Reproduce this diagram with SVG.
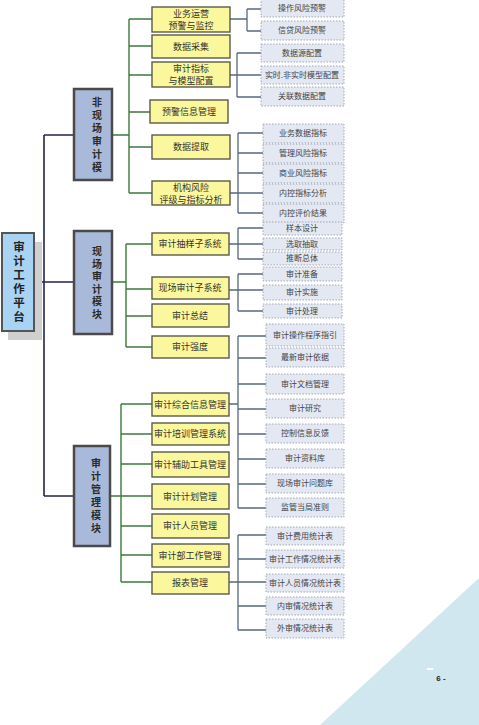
<svg xmlns="http://www.w3.org/2000/svg" width="479" height="725" viewBox="0 0 479 725">
<style>
text{font-family:"Noto Sans CJK SC","Noto Sans",sans-serif;text-anchor:middle}
.v{writing-mode:vertical-rl;text-orientation:upright}
.root{fill:#a9d3f3;stroke:#555;stroke-width:2}
.rt{font-size:11.5px;font-weight:bold;fill:#222;letter-spacing:2.5px}
.mod{fill:#a8b9d9;stroke:#4a4a4a;stroke-width:2.5}
.mt{font-size:10px;font-weight:bold;fill:#2a2a2a;letter-spacing:3px}
.y{fill:#fbf79c;stroke:#5a5a4a;stroke-width:1.4}
.yt{font-size:9px;fill:#333}
.l{fill:#e3e8f3;stroke:#9aa0ad;stroke-width:0.9;stroke-dasharray:1.5 1.5}
.lt{font-size:8px;fill:#444}
.nv{stroke:#23234f;stroke-width:1.6;fill:none}
.gr{stroke:#3b7a3b;stroke-width:1.4;fill:none}
.bl{stroke:#56687f;stroke-width:1.3;fill:none}
</style>
<rect width="479" height="725" fill="#fff"/>
<polygon points="320,725 479,578 479,725" fill="#d0e7ef"/>
<rect x="427" y="668" width="6" height="2" fill="#fff"/>
<text x="441" y="681" style="font-family:'Liberation Sans',sans-serif;font-size:8px;font-weight:bold;fill:#222">6 -</text>

<g id="connectors">
<path class="nv" d="M33,282H44M44,135V496M44,135H74M44,282H74M44,496H74"/>
<path class="gr" d="M112,135H129M129,19V193M129,19H152M129,46H152M129,75H152M129,112H150M129,147H152M129,193H152"/>
<path class="gr" d="M112,282H126M126,244V347M126,244H152M126,289H152M126,316H152M126,347H152"/>
<path class="gr" d="M110,496H121M121,404V582M121,404H152M121,434H152M121,464H152M121,496H152M121,526H152M121,555H152M121,582H152"/>
<path class="bl" d="M230,19H247M247,9V31M247,9H261M247,31H261"/>
<path class="bl" d="M230,75H261M237,53V97M237,53H261M237,97H261"/>
<path class="bl" d="M230,193H238M238,133V213M238,133H263M238,153H263M238,173H263M238,193H263M238,213H263"/>
<path class="bl" d="M229,244H263M238,228V259M238,228H263M238,259H263"/>
<path class="bl" d="M229,290H263M238,274V311M238,274H263M238,311H263"/>
<path class="bl" d="M229,404H238M238,336V508M238,336H266M238,358H266M238,384H266M238,409H266M238,434H266M238,459H266M238,484H266M238,508H266"/>
<path class="bl" d="M229,582H266M238,535V630M238,535H266M238,559H266M238,606H266M238,630H266"/>
</g>

<g id="root">
<rect x="8" y="242" width="34" height="98" fill="#cfcfcf"/>
<rect class="root" x="2" y="233" width="32" height="98"/>
<text class="rt v" x="19" y="283">审计工作平台</text>
</g>

<g id="mod1">
<rect class="mod" x="74" y="89" width="38" height="91"/>
<text class="mt v" x="97" y="136">非现场审计模</text>
</g>
<g id="mod2">
<rect class="mod" x="74" y="231" width="38" height="103"/>
<text class="mt v" x="97" y="284" style="letter-spacing:2.6px">现场审计模块</text>
</g>
<g id="mod3">
<rect class="mod" x="74" y="446" width="36" height="100"/>
<text class="mt v" x="96" y="497">审计管理模块</text>
</g>

<g id="y1"><rect class="y" x="152" y="7" width="78" height="25"/><text class="yt"><tspan x="191" y="17">业务运营</tspan><tspan x="191" dy="11.5">预警与监控</tspan></text></g>
<g id="y2"><rect class="y" x="152" y="35" width="78" height="23"/><text class="yt" x="191" y="50">数据采集</text></g>
<g id="y3"><rect class="y" x="152" y="62" width="78" height="25"/><text class="yt"><tspan x="191" y="72">审计指标</tspan><tspan x="191" dy="11.5">与模型配置</tspan></text></g>
<g id="y4"><rect class="y" x="150" y="100" width="78" height="23"/><text class="yt" x="189" y="115">预警信息管理</text></g>
<g id="y5"><rect class="y" x="152" y="135" width="78" height="24"/><text class="yt" x="191" y="150">数据提取</text></g>
<g id="y6"><rect class="y" x="152" y="181" width="78" height="24"/><text class="yt"><tspan x="191" y="191">机构风险</tspan><tspan x="191" dy="11.5">评级与指标分析</tspan></text></g>

<g id="y7"><rect class="y" x="152" y="233" width="77" height="22"/><text class="yt" x="190" y="247">审计抽样子系统</text></g>
<g id="y8"><rect class="y" x="152" y="277" width="77" height="22"/><text class="yt" x="190" y="291">现场审计子系统</text></g>
<g id="y9"><rect class="y" x="152" y="304" width="77" height="23"/><text class="yt" x="190" y="319">审计总结</text></g>
<g id="y10"><rect class="y" x="152" y="336" width="77" height="22"/><text class="yt" x="190" y="350">审计强度</text></g>

<g id="y11"><rect class="y" x="152" y="393" width="77" height="23"/><text class="yt" x="190" y="408">审计综合信息管理</text></g>
<g id="y12"><rect class="y" x="152" y="423" width="77" height="22"/><text class="yt" x="190" y="437">审计培训管理系统</text></g>
<g id="y13"><rect class="y" x="152" y="452" width="77" height="25"/><text class="yt" x="190" y="468">审计辅助工具管理</text></g>
<g id="y14"><rect class="y" x="152" y="484" width="77" height="25"/><text class="yt" x="190" y="500">审计计划管理</text></g>
<g id="y15"><rect class="y" x="152" y="514" width="77" height="24"/><text class="yt" x="190" y="529">审计人员管理</text></g>
<g id="y16"><rect class="y" x="152" y="544" width="77" height="23"/><text class="yt" x="190" y="559">审计部工作管理</text></g>
<g id="y17"><rect class="y" x="152" y="572" width="77" height="22"/><text class="yt" x="190" y="586">报表管理</text></g>

<g id="g1">
<rect class="l" x="261" y="-1" width="83" height="18"/><text class="lt" x="302" y="11">操作风险预警</text>
<rect class="l" x="261" y="21" width="83" height="19"/><text class="lt" x="302" y="33">信贷风险预警</text>
</g>
<g id="g2">
<rect class="l" x="261" y="44" width="83" height="18"/><text class="lt" x="302" y="56">数据源配置</text>
<rect class="l" x="261" y="66" width="83" height="18"/><text class="lt" x="302" y="78">实时.非实时模型配置</text>
<rect class="l" x="261" y="87" width="83" height="19"/><text class="lt" x="302" y="99">关联数据配置</text>
</g>
<g id="g3">
<rect class="l" x="263" y="124" width="81" height="19"/><text class="lt" x="303" y="136">业务数据指标</text>
<rect class="l" x="263" y="144" width="81" height="19"/><text class="lt" x="303" y="156">管理风险指标</text>
<rect class="l" x="263" y="164" width="81" height="19"/><text class="lt" x="303" y="176">商业风险指标</text>
<rect class="l" x="263" y="184" width="81" height="19"/><text class="lt" x="303" y="196">内控指标分析</text>
<rect class="l" x="263" y="204" width="81" height="19"/><text class="lt" x="303" y="216">内控评价结果</text>
</g>
<g id="g4">
<rect class="l" x="263" y="222" width="79" height="13"/><text class="lt" x="302" y="231">样本设计</text>
<rect class="l" x="263" y="238" width="79" height="12"/><text class="lt" x="302" y="247">选取抽取</text>
<rect class="l" x="263" y="252" width="79" height="13"/><text class="lt" x="302" y="261">推断总体</text>
</g>
<g id="g5">
<rect class="l" x="263" y="267" width="79" height="14"/><text class="lt" x="302" y="277">审计准备</text>
<rect class="l" x="263" y="285" width="79" height="15"/><text class="lt" x="302" y="295">审计实施</text>
<rect class="l" x="263" y="304" width="79" height="14"/><text class="lt" x="302" y="314">审计处理</text>
</g>
<g id="g6">
<rect class="l" x="266" y="324" width="78" height="22"/><text class="lt" x="305" y="338">审计操作程序指引</text>
<rect class="l" x="266" y="348" width="78" height="19"/><text class="lt" x="305" y="360">最新审计依据</text>
<rect class="l" x="266" y="374" width="78" height="20"/><text class="lt" x="305" y="387">审计文档管理</text>
<rect class="l" x="266" y="399" width="78" height="19"/><text class="lt" x="305" y="411">审计研究</text>
<rect class="l" x="266" y="424" width="78" height="19"/><text class="lt" x="305" y="436">控制信息反馈</text>
<rect class="l" x="266" y="449" width="78" height="19"/><text class="lt" x="305" y="461">审计资料库</text>
<rect class="l" x="266" y="474" width="78" height="19"/><text class="lt" x="305" y="486">现场审计问题库</text>
<rect class="l" x="266" y="498" width="78" height="19"/><text class="lt" x="305" y="510">监管当局准则</text>
</g>
<g id="g7">
<rect class="l" x="266" y="527" width="78" height="18"/><text class="lt" x="305" y="539">审计费用统计表</text>
<rect class="l" x="266" y="550" width="78" height="18"/><text class="lt" x="305" y="562">审计工作情况统计表</text>
<rect class="l" x="266" y="574" width="78" height="18"/><text class="lt" x="305" y="586">审计人员情况统计表</text>
<rect class="l" x="266" y="597" width="78" height="18"/><text class="lt" x="305" y="609">内审情况统计表</text>
<rect class="l" x="266" y="619" width="78" height="19"/><text class="lt" x="305" y="631">外审情况统计表</text>
</g>
</svg>
